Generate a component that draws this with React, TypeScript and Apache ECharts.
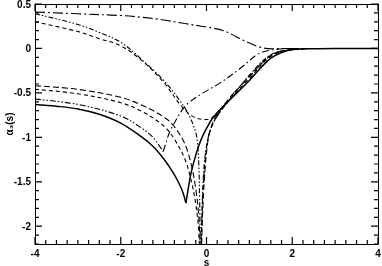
import React, { useEffect, useRef } from "react";
import * as echarts from "echarts";

// axis ranges / tick labels
const xMin = -4;
const xMax = 4;
const yMin = -2.2;
const yMax = 0.5;
const yMajorTicks = [-2, -1.5, -1, -0.5, 0, 0.5];
const xTickStep = 0.25;
const yTickStep = 0.1;

// curves: [s, alpha3(s)]
const solidLeft = [[-4, -0.63], [-3.5, -0.65], [-3, -0.68], [-2.5, -0.74], [-2, -0.84], [-1.5, -1.0], [-1.25, -1.1], [-1, -1.24], [-0.8, -1.38], [-0.66, -1.5], [-0.55, -1.62], [-0.48, -1.74]];
const solidRight = [[-0.48, -1.74], [-0.42, -1.56], [-0.36, -1.4], [-0.25, -1.2], [-0.13, -1.03], [0, -0.9], [0.15, -0.78], [0.5, -0.6], [1, -0.36], [1.3, -0.2], [1.5, -0.11], [1.75, -0.045], [2, -0.015], [2.5, -0.003], [3, 0], [4, 0]];

const dashALeft = [[-4, -0.42], [-3, -0.46], [-2, -0.55], [-1.5, -0.64], [-1, -0.77], [-0.75, -0.88], [-0.5, -1.08], [-0.35, -1.32], [-0.25, -1.58], [-0.18, -1.9], [-0.14, -2.3]];
const dashARight = [[-0.12, -2.3], [-0.09, -1.85], [-0.04, -1.4], [0.03, -1.05], [0.1, -0.9], [0.2, -0.78], [0.5, -0.58], [1, -0.32], [1.5, -0.08], [2, -0.01], [2.5, 0], [4, 0]];

const dashBLeft = [[-4, -0.46], [-3, -0.51], [-2, -0.61], [-1.5, -0.71], [-1, -0.87], [-0.75, -1.02], [-0.5, -1.25], [-0.35, -1.5], [-0.25, -1.75], [-0.19, -2.0], [-0.16, -2.3]];
const dashBRight = [[-0.14, -2.3], [-0.11, -1.95], [-0.08, -1.6], [-0.03, -1.25], [0.03, -1.03], [0.12, -0.88], [0.25, -0.76], [0.5, -0.6], [1, -0.34], [1.5, -0.09], [2, -0.01], [2.5, 0], [4, 0]];

const ddLowLeft = [[-4, -0.57], [-3, -0.63], [-2, -0.76], [-1.5, -0.9], [-1.25, -1.0], [-1.01, -1.16]];
const ddLowRight = [[-1.01, -1.16], [-0.95, -1.07], [-0.85, -0.93], [-0.55, -0.68], [-0.385, -0.6], [-0.08, -0.5], [0.31, -0.39], [0.8, -0.22], [1.18, -0.07], [1.5, -0.02], [2, 0], [4, 0]];

const ddUpLeft = [[-4, 0.39], [-3, 0.27], [-2.5, 0.18], [-2, 0.07], [-1.5, -0.13], [-1, -0.36], [-0.6, -0.6], [-0.4, -0.76], [-0.28, -0.9], [-0.22, -1.02], [-0.18, -1.3], [-0.16, -1.7], [-0.14, -2.3]];
const ddUpRight = [[-0.12, -2.3], [-0.1, -1.75], [-0.06, -1.35], [0, -1.1], [0.08, -0.93], [0.2, -0.8], [0.4, -0.66], [0.7, -0.48], [1, -0.3], [1.5, -0.07], [2, -0.01], [2.5, 0], [4, 0]];

const dashUp = [[-4, 0.3], [-3, 0.19], [-2.5, 0.11], [-2, 0.03], [-1.5, -0.14], [-1, -0.38], [-0.6, -0.64], [-0.3, -0.77], [0, -0.8], [0.15, -0.77], [0.3, -0.7], [0.5, -0.58], [1, -0.31], [1.5, -0.08], [2, -0.01], [2.5, 0], [4, 0]];

const dotDashUp = [[-4, 0.41], [-3, 0.39], [-2, 0.37], [-1.5, 0.35], [-1, 0.32], [-0.5, 0.28], [0, 0.24], [0.4, 0.2], [0.7, 0.13], [1, 0.06], [1.25, 0.015], [1.5, -0.005], [1.8, 0], [4, 0]];

const FONT = "Liberation Sans, Arial, Helvetica, sans-serif";

// layout
const W = 382;
const H = 266;
const G = { left: 35, right: 4, top: 4, bottom: 22 };
const MAJOR_PX = 7;
const MINOR_PX = 4;

export default function App() {
  const ref = useRef<HTMLDivElement>(null);
  useEffect(() => {
    if (!ref.current) return;
    const chart = echarts.init(ref.current, undefined, { renderer: "svg" });
    const black = "#000";

    // tick segments on all four sides, lengths converted from pixels to data units
    const plotW = W - G.left - G.right;
    const plotH = H - G.top - G.bottom;
    const xPerPx = (xMax - xMin) / plotW;
    const yPerPx = (yMax - yMin) / plotH;
    const tickData: any[] = [];
    const nx = Math.round((xMax - xMin) / xTickStep);
    for (let i = 0; i <= nx; i++) {
      const v = xMin + i * xTickStep;
      const len = (i % 8 === 0 ? MAJOR_PX : MINOR_PX) * yPerPx;
      tickData.push([v, yMin], [v, yMin + len], [null, null]);
      tickData.push([v, yMax], [v, yMax - len], [null, null]);
    }
    const ny = Math.round((yMax - yMin) / yTickStep);
    for (let i = 0; i <= ny; i++) {
      const v = Math.round((yMin + i * yTickStep) * 10) / 10;
      const major = Math.abs(v * 2 - Math.round(v * 2)) < 1e-6;
      const len = (major ? MAJOR_PX : MINOR_PX) * xPerPx;
      tickData.push([xMin, v], [xMin + len, v], [null, null]);
      tickData.push([xMax, v], [xMax - len, v], [null, null]);
    }

    const line = (data: number[][], type: any, width = 1.1) => ({
      type: "line",
      data,
      showSymbol: false,
      symbol: "none",
      smooth: 0.35,
      xAxisIndex: 0,
      yAxisIndex: 0,
      lineStyle: { color: black, width, type },
    });
    const textStyle = { color: black, fontFamily: FONT, fontWeight: "bold", fontSize: 10 };
    const axisCommon = {
      type: "value",
      axisLine: { show: true, onZero: false, lineStyle: { color: black, width: 1 } },
      axisTick: { show: false },
      splitLine: { show: false },
    };
    chart.setOption({
      animation: false,
      grid: { ...G, outerBoundsMode: "none" },
      xAxis: [
        {
          ...axisCommon,
          min: xMin,
          max: xMax,
          interval: 2,
          position: "bottom",
          axisLabel: { show: true, margin: 4, ...textStyle },
          name: "s",
          nameLocation: "middle",
          nameGap: 13,
          nameMoveOverlap: false,
          nameTextStyle: textStyle,
        },
        { ...axisCommon, min: xMin, max: xMax, interval: 2, position: "top", axisLabel: { show: false } },
      ],
      yAxis: [
        {
          ...axisCommon,
          min: yMin,
          max: yMax,
          interval: yTickStep,
          position: "left",
          axisLabel: { show: true, customValues: yMajorTicks, margin: 4, ...textStyle },
          name: "α₃(s)",
          nameLocation: "middle",
          nameRotate: 90,
          nameGap: 21,
          nameMoveOverlap: false,
          nameTextStyle: textStyle,
        },
        { ...axisCommon, min: yMin, max: yMax, interval: yTickStep, position: "right", axisLabel: { show: false } },
      ],
      series: [
        {
          type: "line",
          data: tickData,
          showSymbol: false,
          symbol: "none",
          connectNulls: false,
          clip: false,
          silent: true,
          xAxisIndex: 0,
          yAxisIndex: 0,
          lineStyle: { color: black, width: 1.2, type: "solid" },
        },
        line(solidLeft, "solid", 1.5),
        line(solidRight, "solid", 1.5),
        line(dashALeft, [6, 3]),
        line(dashARight, [6, 3]),
        line(dashBLeft, [4, 3]),
        line(dashBRight, [4, 3]),
        line(ddLowLeft, [6, 2, 1.5, 2, 1.5, 2]),
        line(ddLowRight, [7, 3, 1.5, 3]),
        line(ddUpLeft, [5, 2, 1.5, 2, 1.5, 2]),
        line(ddUpRight, [5, 2, 1.5, 2]),
        line(dashUp, [4, 3]),
        line(dotDashUp, [10, 3, 2, 3]),
      ],
    });
    return () => chart.dispose();
  }, []);
  return <div ref={ref} style={{ position: "fixed", left: 0, top: 0, width: W, height: H }} />;
}
